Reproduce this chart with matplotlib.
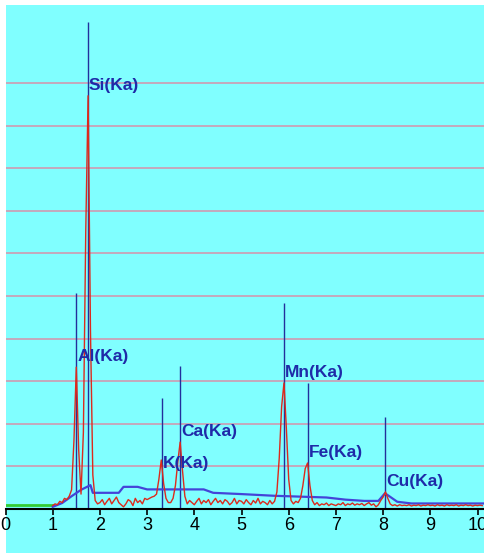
import matplotlib
matplotlib.use('agg')
import numpy as np
import matplotlib.pyplot as plt
from matplotlib.patches import Rectangle

# EDS spectrum: counts sampled every 0.05 keV starting at 1.00 keV
counts = [
    0.08, 0.12, 0.10, 0.18, 0.15, 0.25, 0.22, 0.30, 0.45, 1.60,   # 1.00
    3.33, 1.40, 0.35, 1.80, 6.50, 9.70, 4.20, 0.80, 0.20, 0.12,   # 1.50
    0.15, 0.22, 0.10, 0.18, 0.25, 0.12, 0.20, 0.28, 0.15, 0.10,   # 2.00
    0.05, 0.12, 0.22, 0.18, 0.08, 0.25, 0.15, 0.20, 0.12, 0.25,   # 2.50
    0.22, 0.25, 0.28, 0.30, 0.35, 0.70, 1.15, 0.60, 0.25, 0.15,   # 3.00
    0.15, 0.25, 0.55, 1.10, 1.57, 0.90, 0.30, 0.12, 0.20, 0.15,   # 3.50
    0.10, 0.18, 0.25, 0.12, 0.20, 0.15, 0.22, 0.10, 0.18, 0.25,   # 4.00
    0.15, 0.20, 0.12, 0.22, 0.18, 0.10, 0.15, 0.25, 0.12, 0.20,   # 4.50
    0.18, 0.12, 0.22, 0.15, 0.10, 0.20, 0.14, 0.25, 0.12, 0.18,   # 5.00
    0.15, 0.10, 0.20, 0.12, 0.18, 0.40, 1.20, 2.40, 2.96, 1.90,   # 5.50
    0.70, 0.20, 0.12, 0.18, 0.15, 0.25, 0.55, 0.95, 1.08, 0.55,   # 6.00
    0.20, 0.10, 0.15, 0.08, 0.12, 0.10, 0.14, 0.08, 0.12, 0.10,   # 6.50
    0.08, 0.12, 0.10, 0.15, 0.08, 0.12, 0.10, 0.14, 0.09, 0.12,   # 7.00
    0.10, 0.13, 0.08, 0.12, 0.15, 0.09, 0.12, 0.05, 0.10, 0.20,   # 7.50
    0.28, 0.40, 0.25, 0.12, 0.08, 0.10, 0.07, 0.10, 0.08, 0.09,   # 8.00
    0.08, 0.10, 0.07, 0.09, 0.08, 0.10, 0.07, 0.09, 0.08, 0.10,   # 8.50
    0.08, 0.09, 0.07, 0.10, 0.08, 0.09, 0.07, 0.10, 0.08, 0.09,   # 9.00
    0.08, 0.10, 0.07, 0.09, 0.08, 0.10, 0.08, 0.09, 0.07, 0.09,   # 9.50
    0.08, 0.09, 0.08,                                             # 10.00
]
energy = np.round(1.0 + 0.05 * np.arange(len(counts)), 2)

# fitted background
bg_energy = [1.0, 1.2, 1.4, 1.6, 1.8, 1.85, 2.4, 2.5, 2.8, 3.0, 4.2, 4.4,
             5.0, 5.7, 6.8, 7.2, 7.6, 7.9, 8.04, 8.3, 8.6, 10.2]
bg_counts = [0.05, 0.14, 0.30, 0.45, 0.56, 0.38, 0.38, 0.52, 0.52, 0.46, 0.46, 0.38,
             0.35, 0.31, 0.27, 0.22, 0.19, 0.19, 0.37, 0.17, 0.13, 0.13]

# low-energy cutoff segment
cut_energy = [0.0, 1.0]
cut_counts = [0.09, 0.09]

# identified K-alpha lines
line_names = ['Al(Ka)', 'Si(Ka)', 'K(Ka)', 'Ca(Ka)', 'Mn(Ka)', 'Fe(Ka)', 'Cu(Ka)']
line_energy = [1.49, 1.74, 3.31, 3.69, 5.90, 6.40, 8.04]
line_height = [5.07, 11.43, 2.60, 3.36, 4.84, 2.96, 2.16]

W, H = 484, 553
fig = plt.figure(figsize=(W / 100, H / 100), dpi=100, facecolor='white')
fig.patches.append(Rectangle((6 / W, 0), 1, 1 - 5 / H, transform=fig.transFigure,
                             facecolor='#80ffff', edgecolor='none', zorder=-10))

ax = fig.add_axes([5.5 / W, 44 / H, 1 - 5.5 / W, 504 / H])
ax.set_facecolor('none')
ax.set_xlim(0, 478.5 / 47.2)
ax.set_ylim(0, 504 / 42.6)

for yv in range(1, 11):
    ax.axhline(yv, color='#c9a3b6', lw=1.3, zorder=1)

ax.plot(cut_energy, cut_counts, color='#33cc33', lw=2, zorder=3)
ax.plot(bg_energy, bg_counts, color='#4444d8', lw=1.6, zorder=3)
ax.plot(energy, counts, color='#dd2a1c', lw=1.0, zorder=4)

ax.vlines(line_energy, 0, line_height, color='#23309c', lw=1.0, zorder=2)

for name, e in zip(line_names, line_energy):
    near = np.abs(energy - e) <= 0.05
    peak = max(np.array(counts)[near])
    dy = -8 if name == 'K(Ka)' else 2
    ax.annotate(name, (e, peak), xytext=(1, dy), textcoords='offset points',
                ha='left', va='bottom', color='#1f2aa8', fontsize=12.5,
                family=['Liberation Sans', 'DejaVu Sans'], weight='bold', zorder=5)

for s in ['top', 'left', 'right']:
    ax.spines[s].set_visible(False)
ax.spines['bottom'].set_linewidth(1.5)
ax.set_yticks([])
ax.set_xticks(range(0, 11))
ax.tick_params(axis='x', direction='out', length=4, width=1.2, pad=2, labelsize=13)
for lbl in ax.get_xticklabels():
    lbl.set_family(['Liberation Sans', 'DejaVu Sans'])

plt.savefig('out.png', dpi=100, facecolor='white')
